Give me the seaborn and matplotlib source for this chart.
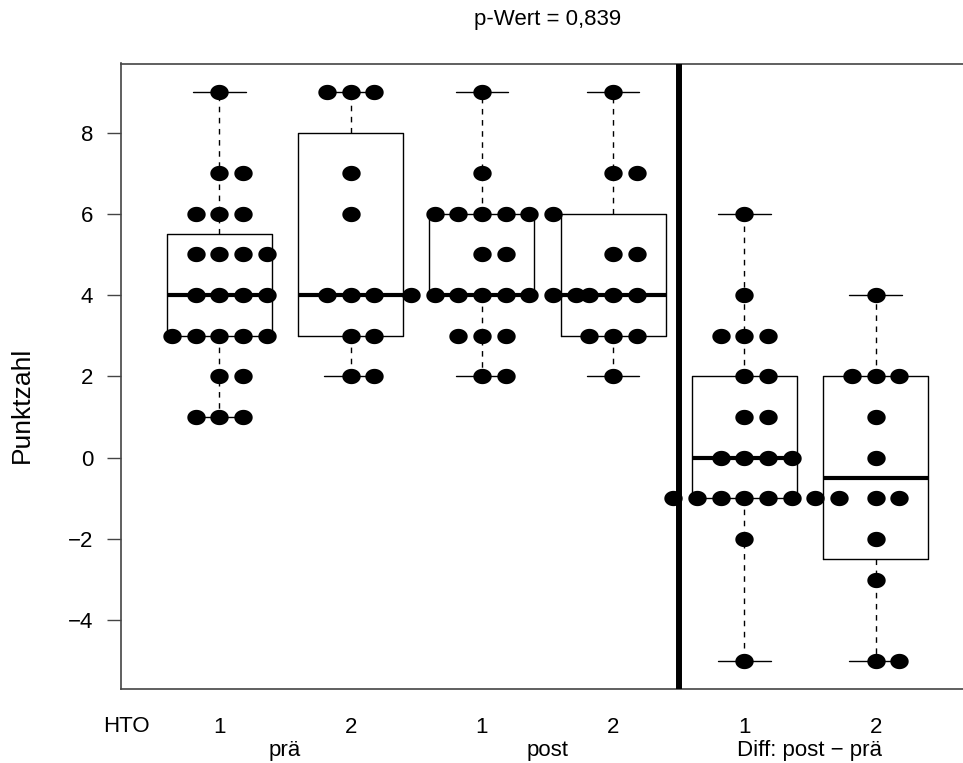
import numpy as np
import pandas as pd
import seaborn as sns
import matplotlib.pyplot as plt
from matplotlib.path import Path

# Punktzahl je Gruppe (HTO 1 / 2) vor, nach und Differenz
pre_1 = [1, 1, 1, 2, 2, 3, 3, 3, 3, 3, 4, 4, 4, 4, 5, 5, 5, 5, 6, 6, 6, 7, 7, 9]
pre_2 = [2, 2, 3, 3, 4, 4, 4, 6, 7, 9, 9, 9]
post_1 = [2, 2, 3, 3, 3, 4, 4, 4, 4, 4, 4, 4, 4, 5, 5, 6, 6, 6, 6, 6, 6, 7, 9]
post_2 = [2, 3, 3, 3, 4, 4, 4, 5, 5, 7, 7, 9]
diff_1 = [-5, -2, -1, -1, -1, -1, -1, -1, -1, -1, 0, 0, 0, 0, 1, 1, 2, 2, 3, 3, 3, 4, 6]
diff_2 = [-5, -5, -3, -2, -1, -1, 0, 1, 2, 2, 2, 4]

groups = [pre_1, pre_2, post_1, post_2, diff_1, diff_2]
hto_labels = ['1', '2', '1', '2', '1', '2']
block_labels = ['prä', 'post', 'Diff: post − prä']
title = 'p-Wert = 0,839'
ylabel = 'Punktzahl'

'''
Tukey hinges like R's boxplot (fivenum)
'''
def fivenum(values):
  x = np.sort(np.asarray(values, dtype=float))
  n = len(x)
  n4 = np.floor((n + 3) / 2) / 2
  d = np.array([1, n4, (n + 1) / 2, n + 1 - n4, n])
  return 0.5 * (x[np.floor(d).astype(int) - 1] + x[np.ceil(d).astype(int) - 1])

def box_stats(values, pos):
  lo, q1, med, q3, hi = fivenum(values)
  iqr = q3 - q1
  x = np.asarray(values)
  wlo = x[x >= q1 - 1.5 * iqr].min()
  whi = x[x <= q3 + 1.5 * iqr].max()
  return dict(med=med, q1=q1, q3=q3, whislo=wlo, whishi=whi, fliers=[], label=str(pos))

'''
Beeswarm-like offsets: equal values side by side, centre first
'''
def swarm_offsets(values):
  offs = np.zeros(len(values))
  values = np.asarray(values)
  for v in np.unique(values):
    idx = np.where(values == v)[0]
    start = -((len(idx) - 1) // 2)
    offs[idx] = np.arange(start, start + len(idx))
  return offs

positions = np.arange(1, len(groups) + 1)
step = 0.18

rows = []
for pos, vals in zip(positions, groups):
  for o, v in zip(swarm_offsets(vals), vals):
    rows.append({'x': pos + o * step, 'Punktzahl': v})
df = pd.DataFrame(rows)

sns.set_theme(style='white')
plt.rcParams['font.family'] = ['Liberation Sans', 'DejaVu Sans']
plt.rcParams['text.color'] = 'black'
plt.rcParams['xtick.labelcolor'] = 'black'
plt.rcParams['ytick.labelcolor'] = 'black'

fig = plt.figure(figsize=(9.63, 7.63), dpi=100)
ax = fig.add_axes([121 / 963, 73.7 / 763, 853 / 963, 625.8 / 763])

stats = [box_stats(v, p) for v, p in zip(groups, positions)]
ax.bxp(stats, positions=positions, widths=0.8, showfliers=False,
       boxprops=dict(color='black', linewidth=1.0),
       medianprops=dict(color='black', linewidth=3.0, solid_capstyle='butt'),
       whiskerprops=dict(color='black', linewidth=1.0, linestyle=(0, (4, 4))),
       capprops=dict(color='black', linewidth=1.0), manage_ticks=False)

t = np.linspace(0, 2 * np.pi, 60)
dot = Path(np.column_stack([1.2 * np.cos(t), np.sin(t)]), closed=True)
sns.scatterplot(data=df, x='x', y='Punktzahl', color='black', marker=dot,
                s=175, linewidth=0, legend=False, ax=ax, zorder=3)

# Trennlinie zwischen Messwerten und Differenzen
ax.axvline(4.5, color='black', linewidth=4.3, zorder=4)

ax.set_xlim(0.25, 6.75)
ax.set_ylim(-5.7, 9.7)
ax.set_yticks(np.arange(-4, 9, 2))
ax.tick_params(axis='y', left=True, length=10, width=1, color='#444444',
               labelsize=16, pad=10)
ax.set_xticks(positions)
ax.set_xticklabels(hto_labels)
ax.tick_params(axis='x', bottom=False, labelsize=16, pad=14)
ax.set_xlabel('')
ax.set_ylabel('')
for side in ['left', 'top', 'bottom']:
  ax.spines[side].set_color('#444444')
  ax.spines[side].set_linewidth(1.2)
ax.spines['right'].set_visible(False)

trans = ax.get_xaxis_transform()
ax.text(0.29, -0.060, 'HTO', transform=trans, ha='center', va='center', fontsize=16)
for i, lab in enumerate(block_labels):
  ax.text(positions[2 * i] + 0.5, -0.098, lab, transform=trans,
          ha='center', va='center', fontsize=16)

fig.text(547.5 / 963, 1 - 20 / 763, title, ha='center', va='center', fontsize=16)
fig.text(22 / 963, 1 - 405 / 763, ylabel, rotation=90, ha='center', va='center', fontsize=19)

fig.savefig('out.png', dpi=100)
